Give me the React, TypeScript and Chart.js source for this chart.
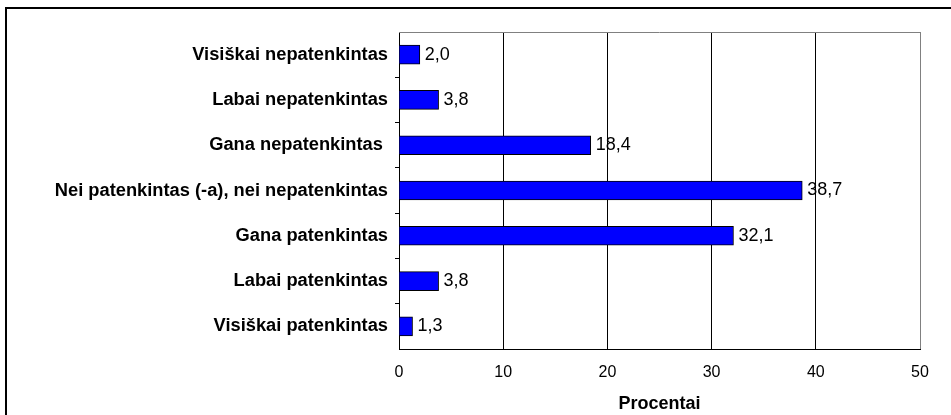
import React, { useEffect, useRef } from "react";
import { Chart, registerables } from "chart.js";

Chart.register(...registerables);

const categories = [
  "Visiškai nepatenkintas",
  "Labai nepatenkintas",
  "Gana nepatenkintas ",
  "Nei patenkintas (-a), nei nepatenkintas",
  "Gana patenkintas",
  "Labai patenkintas",
  "Visiškai patenkintas",
];
const values = [2.0, 3.8, 18.4, 38.7, 32.1, 3.8, 1.3];
const xTicks = [0, 10, 20, 30, 40, 50];
const xTitle = "Procentai";

const FONT = "'Liberation Sans', Arial, sans-serif";

export default function App() {
  const ref = useRef<HTMLCanvasElement | null>(null);

  useEffect(() => {
    if (!ref.current) return;

    const framePlugin = {
      id: "frame",
      beforeDraw(chart: any) {
        const c = chart.ctx;
        c.save();
        c.fillStyle = "#fff";
        c.fillRect(0, 0, chart.width, chart.height);
        c.strokeStyle = "#000";
        c.lineWidth = 2;
        c.strokeRect(6, 8, 2000, 2000);
        c.restore();
      },
      afterDraw(chart: any) {
        const c = chart.ctx;
        const a = chart.chartArea;
        c.save();
        c.strokeStyle = "#808080";
        c.lineWidth = 1;
        c.beginPath();
        c.moveTo(a.left, a.top + 0.5);
        c.lineTo(a.right, a.top + 0.5);
        c.stroke();
        c.restore();
      },
      afterDatasetsDraw(chart: any) {
        const c = chart.ctx;
        const meta = chart.getDatasetMeta(0);
        c.save();
        c.font = `18px ${FONT}`;
        c.fillStyle = "#000";
        c.textAlign = "left";
        c.textBaseline = "middle";
        meta.data.forEach((bar: any, i: number) => {
          const v = values[i];
          c.fillText(v.toFixed(1).replace(".", ","), bar.x + 5, bar.y);
        });
        c.restore();
      },
    };

    const chart = new Chart(ref.current, {
      type: "bar",
      data: {
        labels: categories,
        datasets: [
          {
            data: values,
            backgroundColor: "#0000FF",
            borderColor: "#000000",
            borderWidth: 1,
            barThickness: 19,
          },
        ],
      },
      options: {
        indexAxis: "y",
        animation: false,
        responsive: false,
        devicePixelRatio: 1,
        layout: { padding: { top: 32, right: 31, left: 0, bottom: 0 } },
        plugins: {
          legend: { display: false },
          tooltip: { enabled: false },
        },
        scales: {
          x: {
            min: 0,
            max: 50,
            afterBuildTicks(scale: any) {
              scale.ticks = xTicks.map((v) => ({ value: v }));
            },
            afterFit(scale: any) {
              scale.height = 66;
            },
            grid: {
              drawTicks: false,
              color: (ctx: any) =>
                ctx.tick && ctx.tick.value === 50 ? "#808080" : "#000000",
              lineWidth: 1,
            },
            border: { display: true, color: "#000000", width: 1 },
            ticks: {
              padding: 14,
              color: "#000",
              font: { family: FONT, size: 16 },
            },
            title: {
              display: true,
              text: xTitle,
              color: "#000",
              font: { family: FONT, size: 18, weight: "bold" },
              padding: { top: 0, bottom: 0 },
            },
          },
          y: {
            afterFit(scale: any) {
              scale.width = 399;
            },
            grid: {
              drawOnChartArea: false,
              drawTicks: true,
              tickLength: 4,
              tickColor: (ctx: any) =>
                ctx.index === undefined || ctx.index === 0 ? "rgba(0,0,0,0)" : "#000",
            },
            border: { display: true, color: "#000000", width: 1 },
            ticks: {
              padding: 7,
              color: "#000",
              font: { family: FONT, size: 18.3, weight: "bold" },
            },
          },
        },
      },
      plugins: [framePlugin],
    } as any);

    return () => chart.destroy();
  }, []);

  return (
    <div style={{ position: "absolute", left: 0, top: 0, width: 951, height: 415 }}>
      <canvas ref={ref} width={951} height={415} style={{ width: 951, height: 415, display: "block" }} />
    </div>
  );
}
